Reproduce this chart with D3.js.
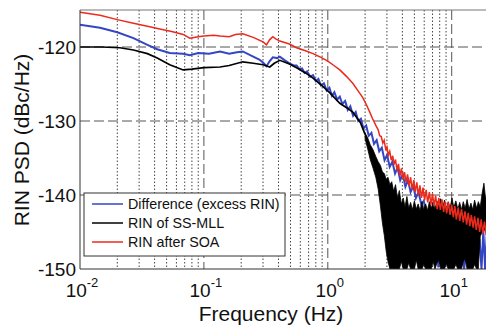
<!DOCTYPE html>
<html lang="en">
<head>
<meta charset="UTF-8">
<title>RIN PSD</title>
<script src="https://d3js.org/d3.v7.min.js"></script>
<style>
    body { margin: 0; background: #fff; }
    svg { display: block; font-family: "Liberation Sans", Arial, sans-serif; }
</style>
</head>
<body>
<svg width="486" height="327"></svg>
<script>
// values: [frequency Hz, dBc/Hz]
const blueRin = [
    [0.01,-117.0],[0.0145,-117.4],[0.02,-118.0],[0.027,-118.8],[0.035,-119.7],[0.042,-120.3],
    [0.053,-120.8],[0.068,-120.9],[0.077,-121.1],[0.09,-120.8],[0.11,-120.9],[0.135,-120.6],
    [0.16,-120.9],[0.185,-120.7],[0.206,-120.6],[0.25,-121.3],[0.28,-121.7],[0.3,-122.1],
    [0.32,-122.6],[0.34,-121.9],[0.36,-121.4],[0.39,-121.5],[0.41,-121.3],[0.45,-121.8],
    [0.49,-122.2],[0.53,-122.5],[0.56,-122.5],[0.59,-123.0],[0.62,-122.9],[0.65,-123.5],
    [0.68,-123.3],[0.72,-124.0],[0.76,-123.8],[0.8,-124.6],[0.84,-124.3],[0.88,-125.2],
    [0.93,-124.9],[0.98,-125.9],[1.03,-125.5],[1.08,-126.6],[1.13,-126.1],[1.19,-127.1],
    [1.25,-126.7],[1.31,-127.7],[1.38,-127.3],[1.45,-128.5],[1.52,-128.0],[1.6,-129.3],
    [1.68,-128.8],[1.76,-130.0],[1.85,-129.7],[1.94,-131.0],[2.04,-130.6],[2.14,-132.0],
    [2.25,-131.6],[2.36,-133.1],[2.48,-132.6],[2.6,-134.1],[2.73,-133.6],[2.87,-135.3],
    [3.01,-134.6],[3.16,-136.2],[3.32,-135.5],[3.49,-137.1],[3.66,-136.3],[3.84,-138.0],
    [4.03,-137.2],[4.23,-138.9],[4.44,-138.0],[4.66,-139.6],[4.9,-138.8],[5.14,-140.4],
    [5.4,-139.6],[5.67,-141.2],[5.95,-140.8],[6.25,-142.6],[6.6,-143.0],[7.0,-144.0],
    [7.5,-145.0],[7.8,-149.8],[8.1,-145.0],[9.0,-146.0],[10.0,-146.0],[11.0,-147.0],
    [12.0,-146.5],[12.6,-150.0],[13.2,-147.0],[14.0,-148.0],[15.0,-147.0],[16.0,-148.0],
    [16.8,-146.0],[17.4,-150.0],[18.0,-144.8],[18.6,-150.0],[19.2,-145.2],[20.0,-149.0]
];

const blackRin = [
    [0.01,-120.0],[0.015,-120.0],[0.021,-120.1],[0.027,-120.4],[0.035,-120.9],[0.042,-121.5],
    [0.053,-122.4],[0.068,-123.1],[0.08,-123.0],[0.1,-122.8],[0.135,-122.7],[0.16,-122.5],
    [0.206,-122.0],[0.25,-122.2],[0.3,-122.4],[0.34,-122.7],[0.37,-122.2],[0.41,-121.8],
    [0.49,-122.3],[0.56,-122.8],[0.66,-123.5],[0.76,-124.2],[0.88,-125.1],[1.04,-126.2],
    [1.25,-127.6],[1.42,-128.2],[1.59,-128.8],[1.83,-130.2],[2.0,-131.8]
];

// noisy part of the black trace: [frequency, upper edge, lower edge]
const blackNoise = [
    [2.0,-131.6,-132.4],[2.1,-132.3,-133.8],[2.2,-133.2,-135.2],[2.32,-133.9,-136.4],
    [2.44,-134.8,-137.6],[2.55,-135.5,-139.2],[2.66,-136.0,-141.5],[2.76,-136.9,-143.8],
    [2.86,-137.1,-145.5],[2.96,-137.9,-147.6],[3.06,-137.6,-149.0],[3.17,-138.6,-150],
    [3.28,-138.2,-150],[3.4,-139.5,-150],[3.52,-138.6,-150],[3.65,-140.4,-150],
    [3.78,-139.4,-150],[3.92,-141.2,-149.0],[4.06,-140.4,-150],[4.2,-141.6,-150],
    [4.35,-140.2,-150],[4.5,-141.8,-149.2],[4.66,-141.0,-150],[4.82,-142.0,-150],
    [5.0,-140.8,-150],[5.18,-141.9,-148.8],[5.36,-141.2,-150],[5.55,-142.1,-150],
    [5.75,-140.9,-150],[5.95,-142.0,-149.4],[6.16,-141.2,-150],[6.38,-142.1,-150],
    [6.6,-140.9,-150],[6.84,-141.8,-150],[7.08,-140.9,-149.0],[7.33,-141.9,-150],
    [7.6,-140.8,-149.2],[7.87,-141.6,-148.8],[8.15,-140.5,-150],[8.44,-141.8,-150],
    [8.74,-140.7,-150],[9.05,-141.9,-149.3],[9.37,-140.9,-150],[9.7,-141.8,-150],
    [10.05,-140.4,-150],[10.4,-141.7,-150],[10.8,-140.8,-149.4],[11.2,-141.9,-150],
    [11.6,-141.0,-150],[12.0,-142.0,-150],[12.4,-140.9,-149.0],[12.85,-141.8,-148.6],
    [13.3,-140.6,-150],[13.8,-141.9,-150],[14.3,-141.1,-150],[14.8,-142.0,-150],
    [15.3,-140.7,-149.4],[15.9,-141.8,-150],[16.4,-140.9,-150],[17.0,-141.6,-145.6],
    [17.6,-139.8,-145.0],[18.2,-138.4,-144.6],[18.8,-140.6,-145.0],[19.4,-139.2,-145.4],
    [20.0,-141.0,-146.0]
];

const redRin = [
    [0.01,-115.3],[0.0145,-115.7],[0.02,-116.3],[0.027,-116.8],[0.035,-117.2],[0.045,-117.6],
    [0.055,-117.9],[0.068,-118.3],[0.077,-118.8],[0.09,-118.6],[0.1,-118.5],[0.12,-118.4],
    [0.135,-118.5],[0.16,-118.6],[0.18,-118.3],[0.206,-118.2],[0.25,-118.7],[0.3,-119.3],
    [0.32,-119.7],[0.34,-119.0],[0.36,-118.6],[0.38,-118.9],[0.41,-119.2],[0.49,-119.6],
    [0.56,-120.1],[0.66,-120.5],[0.76,-120.9],[0.88,-121.4],[1.0,-121.9],[1.12,-122.5],
    [1.25,-123.1],[1.42,-124.0],[1.59,-124.9],[1.75,-125.9],[1.91,-126.8],[2.05,-127.8],
    [2.18,-128.8],[2.3,-129.7],[2.44,-130.6],
    [2.55,-131.2],[2.62,-132.0],[2.7,-132.1],[2.78,-133.0],[2.85,-132.6],[2.93,-133.8],
    [3.0,-133.5],[3.08,-134.6],[3.16,-134.1],[3.25,-135.3],[3.34,-134.7],[3.43,-135.9],
    [3.52,-135.2],[3.62,-136.7],[3.72,-135.8],[3.82,-137.4],[3.93,-136.4],[4.04,-137.9],
    [4.16,-136.9],[4.28,-138.3],[4.4,-137.2],[4.53,-138.8],[4.66,-137.6],[4.8,-139.3],
    [4.94,-138.0],[5.08,-139.6],[5.23,-138.3],[5.38,-140.1],[5.54,-138.7],[5.7,-140.4],
    [5.87,-139.0],[6.04,-140.7],[6.22,-139.3],[6.4,-141.0],[6.6,-139.6],[6.8,-141.3],
    [7.0,-139.8],[7.2,-141.5],[7.42,-140.1],[7.64,-141.9],[7.87,-140.4],[8.1,-142.0],
    [8.35,-140.6],[8.6,-142.3],[8.85,-140.9],[9.1,-142.5],[9.4,-141.0],[9.7,-142.7],
    [10.0,-141.3],[10.3,-143.0],[10.6,-141.5],[10.9,-143.3],[11.3,-141.7],[11.6,-143.5],
    [12.0,-141.9],[12.4,-143.7],[12.8,-142.2],[13.2,-144.0],[13.6,-142.4],[14.0,-144.2],
    [14.4,-142.7],[14.9,-144.4],[15.3,-142.9],[15.8,-144.7],[16.3,-143.1],[16.8,-145.0],
    [17.3,-143.3],[17.8,-145.2],[18.4,-143.6],[19.0,-145.4],[19.6,-143.8],[20.2,-145.3]
];

const yTicks = [-150, -140, -130, -120];
const xTickExps = [-2, -1, 0, 1];
const legendLabels = ["Difference (excess RIN)", "RIN of SS-MLL", "RIN after SOA"];
const legendColors = ["#3446c2", "#000000", "#ec2a1c"];

const svg = d3.select("svg");

// plot box (right side runs just past the picture edge)
const x = d3.scaleLog().domain([0.01, 20]).range([80, 489]);
const y = d3.scaleLinear().domain([-150, -115]).range([269, 10]);

svg.append("clipPath").attr("id", "plotClip")
    .append("rect")
    .attr("x", 80).attr("y", 10)
    .attr("width", 409).attr("height", 259);

// grid lines
const grid = svg.append("g");
const minorX = [];
[0.01, 0.1, 1, 10].forEach(dec => {
    for (let k = 2; k <= 9; k++) if (dec * k < 20) minorX.push(dec * k);
});
grid.selectAll(".minor").data(minorX).enter().append("line")
    .attr("x1", d => x(d)).attr("x2", d => x(d))
    .attr("y1", 10).attr("y2", 269)
    .attr("stroke", "#444").attr("stroke-width", 1)
    .attr("stroke-dasharray", "1.5,2");
grid.selectAll(".majorx").data([0.1, 1, 10]).enter().append("line")
    .attr("x1", d => x(d)).attr("x2", d => x(d))
    .attr("y1", 10).attr("y2", 269)
    .attr("stroke", "#555").attr("stroke-width", 1)
    .attr("stroke-dasharray", "10,4");
grid.selectAll(".majory").data([-140, -130, -120]).enter().append("line")
    .attr("x1", 80).attr("x2", 489)
    .attr("y1", d => y(d)).attr("y2", d => y(d))
    .attr("stroke", "#555").attr("stroke-width", 1)
    .attr("stroke-dasharray", "10,4");

// traces
const plot = svg.append("g").attr("clip-path", "url(#plotClip)");
const line = d3.line().x(d => x(d[0])).y(d => y(d[1]));
const band = d3.area().x(d => x(d[0])).y0(d => y(d[2])).y1(d => y(d[1]));

plot.append("path").datum(blueRin)
    .attr("d", line).attr("fill", "none")
    .attr("stroke", legendColors[0]).attr("stroke-width", 2);

plot.append("path").datum(blackRin)
    .attr("d", line).attr("fill", "none")
    .attr("stroke", "#000").attr("stroke-width", 1.7);

plot.append("path").datum(blackNoise)
    .attr("d", band).attr("fill", "#000")
    .attr("stroke", "#000").attr("stroke-width", 0.8);

plot.append("path").datum(redRin)
    .attr("d", line).attr("fill", "none")
    .attr("stroke", legendColors[2]).attr("stroke-width", 1.5);

// axes box
svg.append("line").attr("x1", 80).attr("x2", 489).attr("y1", 10).attr("y2", 10)
    .attr("stroke", "#777");
svg.append("line").attr("x1", 80).attr("x2", 489).attr("y1", 269).attr("y2", 269)
    .attr("stroke", "#333");
svg.append("line").attr("x1", 80).attr("x2", 80).attr("y1", 10).attr("y2", 269)
    .attr("stroke", "#333");

// tick labels
svg.selectAll(".ylab").data(yTicks).enter().append("text")
    .attr("x", 76).attr("y", d => y(d) + 7)
    .attr("text-anchor", "end")
    .attr("font-size", 19).attr("fill", "#111")
    .text(d => d);

const xl = svg.selectAll(".xlab").data(xTickExps).enter().append("text")
    .attr("x", d => x(Math.pow(10, d)) + 2).attr("y", 297)
    .attr("text-anchor", "middle")
    .attr("font-size", 19).attr("fill", "#111");
xl.append("tspan").text("10");
xl.append("tspan").attr("dy", -10).attr("font-size", 13).text(d => d);

// axis titles
svg.append("text")
    .attr("x", 271).attr("y", 321)
    .attr("text-anchor", "middle")
    .attr("font-size", 21).attr("fill", "#111")
    .text("Frequency (Hz)");
svg.append("text")
    .attr("transform", "translate(29,140) rotate(-90)")
    .attr("text-anchor", "middle")
    .attr("font-size", 21).attr("fill", "#111")
    .text("RIN PSD (dBc/Hz)");

// legend
const legend = svg.append("g");
legend.append("rect")
    .attr("x", 84).attr("y", 193).attr("width", 201).attr("height", 63)
    .attr("fill", "#fff").attr("stroke", "#333");
legendLabels.forEach((label, i) => {
    const ly = 204 + i * 19;
    legend.append("line")
        .attr("x1", 92).attr("x2", 123).attr("y1", ly).attr("y2", ly)
        .attr("stroke", legendColors[i]).attr("stroke-width", 1.5);
    legend.append("text")
        .attr("x", 128).attr("y", ly + 5)
        .attr("font-size", 14.3).attr("fill", "#111")
        .text(label);
});
</script>
</body>
</html>
